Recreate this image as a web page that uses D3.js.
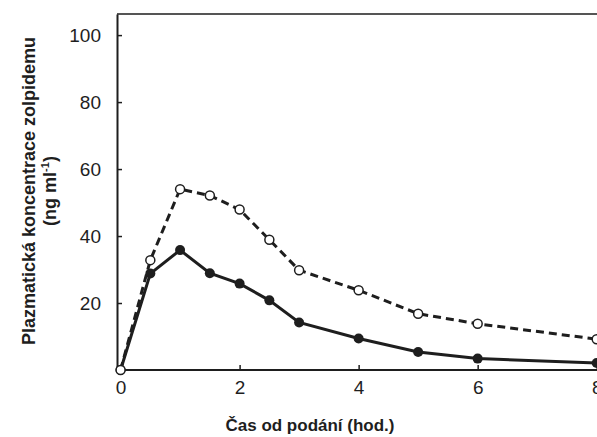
<!DOCTYPE html>
<html>
<head>
<meta charset="utf-8">
<script src="https://cdn.jsdelivr.net/npm/d3@7"></script>
<style>
  body { margin: 0; background: #fff; }
  svg { display: block; font-family: "Liberation Sans", Arial, sans-serif; }
</style>
</head>
<body>
<svg id="chart"></svg>
<script>
// hours after dosing
const hours = [0, 0.5, 1, 1.5, 2, 2.5, 3, 4, 5, 6, 8];
// plasma concentration, ng/ml
const solidSeries = [0, 28.8, 35.8, 28.9, 25.8, 20.8, 14.2, 9.4, 5.4, 3.4, 2.1];
const dashedSeries = [0, 32.8, 54.0, 52.1, 47.9, 38.9, 29.8, 23.8, 16.8, 13.8, 9.2];
const xTicks = [0, 2, 4, 6, 8];
const yTicks = [20, 40, 60, 80, 100];

const width = 597, height = 437;
const margin = { top: 14, right: 0, bottom: 67, left: 117 };

const svg = d3.select("#chart").attr("width", width).attr("height", height);

const x = d3.scaleLinear().domain([-0.06, 8]).range([margin.left, 596.7]);
const y = d3.scaleLinear().domain([0, 106.3]).range([height - margin.bottom, margin.top]);

const ink = "#1e1e1e";

// frame top
svg.append("line")
    .attr("x1", margin.left).attr("x2", width)
    .attr("y1", margin.top).attr("y2", margin.top)
    .attr("stroke", "#555").attr("stroke-width", 2);

const xAxis = svg.append("g")
    .attr("transform", `translate(0, ${y(0)})`)
    .call(d3.axisBottom(x).tickValues(xTicks).tickSizeInner(-5).tickSizeOuter(0).tickPadding(11));
const yAxis = svg.append("g")
    .attr("transform", `translate(${margin.left}, 0)`)
    .call(d3.axisLeft(y).tickValues(yTicks).tickSizeInner(-5).tickSizeOuter(0).tickPadding(16));

[xAxis, yAxis].forEach(a => {
    a.select(".domain").attr("stroke", ink).attr("stroke-width", 2);
    a.selectAll(".tick line").attr("stroke", ink).attr("stroke-width", 1.5);
    a.selectAll(".tick text").attr("fill", ink).style("font-size", "19px")
        .style("font-family", "'Liberation Sans', Arial, sans-serif");
});
// extend x domain line to the right edge
xAxis.select(".domain").attr("d", `M${margin.left},0H${width}`);

const line = d3.line().x((d, i) => x(hours[i])).y(d => y(d));

svg.append("path")
    .datum(dashedSeries)
    .attr("d", line)
    .attr("fill", "none")
    .attr("stroke", ink)
    .attr("stroke-width", 3)
    .attr("stroke-dasharray", "8,5");

svg.append("path")
    .datum(solidSeries)
    .attr("d", line)
    .attr("fill", "none")
    .attr("stroke", ink)
    .attr("stroke-width", 3);

svg.selectAll("circle.solid")
    .data(solidSeries)
    .join("circle")
    .attr("class", "solid")
    .attr("cx", (d, i) => x(hours[i]))
    .attr("cy", d => y(d))
    .attr("r", 5)
    .attr("fill", ink);

svg.selectAll("circle.open")
    .data(dashedSeries)
    .join("circle")
    .attr("class", "open")
    .attr("cx", (d, i) => x(hours[i]))
    .attr("cy", d => y(d))
    .attr("r", 4.5)
    .attr("fill", "#fff")
    .attr("stroke", ink)
    .attr("stroke-width", 1.5);

svg.append("text")
    .attr("x", 310)
    .attr("y", 431)
    .attr("text-anchor", "middle")
    .attr("fill", ink)
    .style("font-size", "17px")
    .style("font-weight", "bold")
    .text("Čas od podání (hod.)");

const yTitle = svg.append("text")
    .attr("transform", "translate(35, 191) rotate(-90)")
    .attr("text-anchor", "middle")
    .attr("fill", ink)
    .style("font-size", "18px")
    .style("font-weight", "bold");
yTitle.append("tspan").attr("x", 0).attr("y", 0).text("Plazmatická koncentrace zolpidemu");
const l2 = yTitle.append("tspan").attr("x", 0).attr("y", 21);
l2.append("tspan").text("(ng ml");
l2.append("tspan").attr("dy", -7).style("font-size", "11px").text("-1");
l2.append("tspan").attr("dy", 7).text(")");
</script>
</body>
</html>
